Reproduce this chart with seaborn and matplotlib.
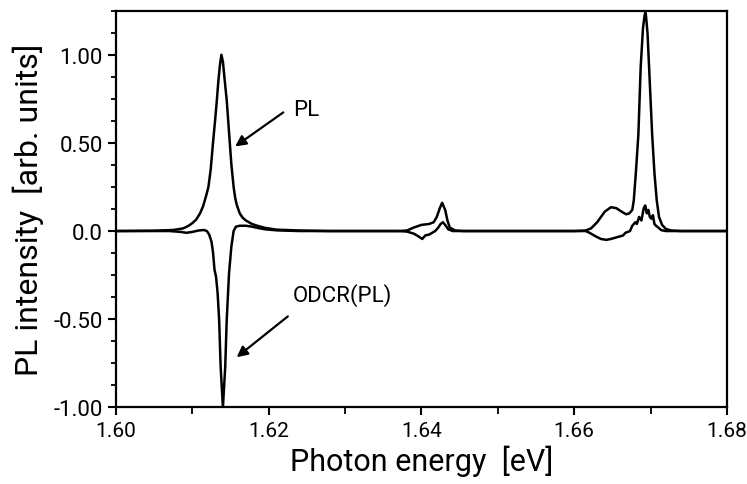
import pandas as pd
import seaborn as sns
import matplotlib
matplotlib.use("Agg")
import matplotlib.pyplot as plt
from matplotlib.ticker import MultipleLocator, FixedLocator, FixedFormatter

# values
pl_energy = [1.6000, 1.6050, 1.6075, 1.6088, 1.6095, 1.6100, 1.6105, 1.6110,
             1.6114, 1.6118, 1.6121, 1.6124, 1.6127, 1.6130, 1.6132, 1.6134,
             1.6136, 1.6138, 1.6140, 1.6142, 1.6145, 1.6147, 1.6149, 1.6151,
             1.6154, 1.6156, 1.6158, 1.6162, 1.6166, 1.6170, 1.6178, 1.6185,
             1.6195, 1.6210, 1.6240, 1.6280, 1.6370, 1.6381, 1.6390, 1.6400,
             1.6410, 1.6416, 1.6420, 1.6424, 1.6427, 1.6431, 1.6434, 1.6437,
             1.6444, 1.6455, 1.6600, 1.6615, 1.6622, 1.6630, 1.6640, 1.6648,
             1.6655, 1.6662, 1.6668, 1.6672, 1.6676, 1.6678, 1.6681, 1.6684,
             1.6687, 1.6690, 1.6692, 1.6693, 1.6694, 1.6696, 1.6698, 1.6702,
             1.6705, 1.6708, 1.6711, 1.6715, 1.6720, 1.6727, 1.6740, 1.6800]
pl_intensity = [0.0, 0.002, 0.006, 0.015, 0.030, 0.045, 0.065, 0.100,
                0.140, 0.200, 0.250, 0.350, 0.500, 0.640, 0.740, 0.850,
                0.940, 1.000, 0.960, 0.870, 0.740, 0.620, 0.500, 0.380,
                0.250, 0.190, 0.150, 0.100, 0.075, 0.060, 0.040, 0.030,
                0.018, 0.008, 0.003, 0.0, 0.0, 0.003, 0.020, 0.035,
                0.040, 0.050, 0.080, 0.130, 0.160, 0.120, 0.060, 0.020,
                0.003, 0.0, 0.0, 0.003, 0.015, 0.050, 0.110, 0.135,
                0.130, 0.110, 0.095, 0.100, 0.120, 0.175, 0.350, 0.550,
                0.930, 1.150, 1.220, 1.240, 1.220, 1.120, 0.930, 0.550,
                0.330, 0.175, 0.080, 0.035, 0.012, 0.003, 0.0, 0.0]

odcr_energy = [1.6000, 1.6070, 1.6085, 1.6092, 1.6100, 1.6108, 1.6115, 1.6119,
               1.6122, 1.6125, 1.6127, 1.6129, 1.6131, 1.6133, 1.6135, 1.6137,
               1.6140, 1.6143, 1.6145, 1.6148, 1.6151, 1.6154, 1.6157, 1.6162,
               1.6170, 1.6178, 1.6185, 1.6195, 1.6210, 1.6240, 1.6370, 1.6381,
               1.6390, 1.6396, 1.6401, 1.6405, 1.6410, 1.6414, 1.6418, 1.6422,
               1.6425, 1.6428, 1.6431, 1.6435, 1.6441, 1.6600, 1.6615, 1.6620,
               1.6628, 1.6635, 1.6642, 1.6648, 1.6652, 1.6656, 1.6660, 1.6664,
               1.6667, 1.6670, 1.6673, 1.6676, 1.6680, 1.6682, 1.6685, 1.6688,
               1.6691, 1.6693, 1.6695, 1.6697, 1.6699, 1.6701, 1.6703, 1.6705,
               1.6707, 1.6710, 1.6714, 1.6720, 1.6800]
odcr_intensity = [0.0, 0.0, -0.005, -0.010, -0.005, 0.003, 0.006, 0.0,
                  -0.020, -0.060, -0.120, -0.220, -0.260, -0.350, -0.500, -0.770,
                  -1.000, -0.770, -0.500, -0.240, -0.090, 0.0, 0.025, 0.030,
                  0.030, 0.025, 0.018, 0.010, 0.004, 0.0, 0.0, -0.003,
                  -0.015, -0.030, -0.045, -0.025, -0.020, -0.010, 0.0, 0.020,
                  0.040, 0.050, 0.035, 0.010, 0.0, 0.0, 0.0, -0.010,
                  -0.030, -0.045, -0.050, -0.045, -0.040, -0.035, -0.030, -0.025,
                  -0.010, -0.005, 0.0, 0.030, 0.050, 0.040, 0.080, 0.060,
                  0.130, 0.145, 0.100, 0.120, 0.080, 0.070, 0.090, 0.040,
                  0.030, 0.020, 0.005, 0.0, 0.0]

xtick_values = [1.60, 1.62, 1.64, 1.66, 1.68]
xtick_labels = ["1.60", "1.62", "1.64", "1.66", "1.68"]
ytick_values = [-1.0, -0.5, 0.0, 0.5, 1.0]
ytick_labels = ["-1.00", "-0.50", "0.0", "0.50", "1.00"]

pl_df = pd.DataFrame({"energy": pl_energy, "intensity": pl_intensity})
odcr_df = pd.DataFrame({"energy": odcr_energy, "intensity": odcr_intensity})

sns.set_style("ticks")
plt.rcParams["font.family"] = ["Roboto", "DejaVu Sans"]
plt.rcParams["text.color"] = "black"
plt.rcParams["axes.labelcolor"] = "black"
plt.rcParams["xtick.color"] = "black"
plt.rcParams["ytick.color"] = "black"

fig = plt.figure(figsize=(7.47, 4.85), dpi=100)
ax = fig.add_axes([0.1553, 0.1581, 0.8179, 0.8178])

sns.lineplot(data=pl_df, x="energy", y="intensity", color="black",
             linewidth=1.8, estimator=None, ax=ax)
sns.lineplot(data=odcr_df, x="energy", y="intensity", color="black",
             linewidth=1.8, estimator=None, ax=ax)

ax.set_xlim(1.60, 1.68)
ax.set_ylim(-1.0, 1.25)

ax.xaxis.set_major_locator(FixedLocator(xtick_values))
ax.xaxis.set_major_formatter(FixedFormatter(xtick_labels))
ax.xaxis.set_minor_locator(MultipleLocator(0.01))
ax.yaxis.set_major_locator(FixedLocator(ytick_values))
ax.yaxis.set_major_formatter(FixedFormatter(ytick_labels))
ax.yaxis.set_minor_locator(MultipleLocator(0.125))

ax.tick_params(axis="both", which="major", direction="out", length=6,
               width=1.5, labelcolor="black", color="black")
ax.tick_params(axis="x", which="major", labelsize=15)
ax.tick_params(axis="y", which="major", labelsize=16)
ax.tick_params(axis="y", which="minor", direction="out", length=3.5, width=1.3)
ax.tick_params(axis="x", which="minor", direction="out", length=5, width=1.3)
for side in ["left", "right", "top", "bottom"]:
    ax.spines[side].set_visible(True)
    ax.spines[side].set_linewidth(1.6)
    ax.spines[side].set_color("black")

ax.set_xlabel("Photon energy  [eV]", fontsize=22, labelpad=4)
ax.set_ylabel("PL intensity  [arb. units]", fontsize=23, labelpad=7)

arrow = dict(arrowstyle="-|>", color="black", lw=1.6, mutation_scale=16,
             shrinkA=0, shrinkB=0)
ax.annotate("", xy=(1.6156, 0.48), xytext=(1.6219, 0.673), arrowprops=arrow)
ax.text(1.6232, 0.69, "PL", fontsize=16, va="center", ha="left")
ax.annotate("", xy=(1.6158, -0.716), xytext=(1.6225, -0.484), arrowprops=arrow)
ax.text(1.6232, -0.36, "ODCR(PL)", fontsize=16, va="center", ha="left")

plt.savefig("out.png", dpi=100)
